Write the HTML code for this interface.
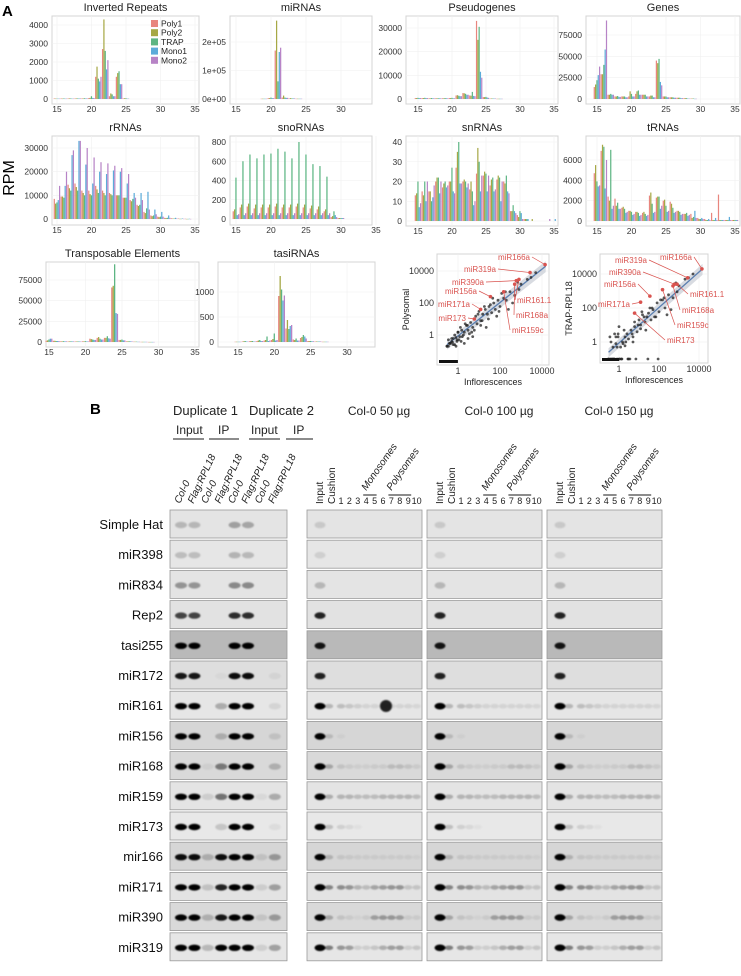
<!DOCTYPE html>
<html><head><meta charset="utf-8">
<style>
html,body{margin:0;padding:0;background:#fff;}
svg{display:block;font-family:"Liberation Sans",Arial,sans-serif;}
</style></head>
<body>
<svg id="fig" width="741" height="976" viewBox="0 0 741 976" xmlns="http://www.w3.org/2000/svg">
<defs><filter id="blur" x="-50%" y="-80%" width="200%" height="260%"><feGaussianBlur stdDeviation="0.9"/></filter></defs>
<text x="2" y="16" font-size="15" font-weight="bold">A</text>
<text x="90" y="414" font-size="15" font-weight="bold">B</text>
<text x="14" y="178" font-size="16" text-anchor="middle" transform="rotate(-90 14 178)">RPM</text>
<g id="hist"></g><g id="scat"></g><g id="blots"></g>
</svg>
<script>
// ===== Histogram data (lengths 15..35), series: Poly1, Poly2, TRAP, Mono1, Mono2 =====
const lengths = [15,16,17,18,19,20,21,22,23,24,25,26,27,28,29,30,31,32,33,34,35];
const seriesNames = ["Poly1","Poly2","TRAP","Mono1","Mono2"];
const seriesColors = ["#e8867e","#a6a845","#5db583","#5cabd9","#b783c6"];
const invertedRepeats = [
 [30,30,30,30,30,50,1200,2700,150,1200,30],
 [20,20,30,30,30,60,1750,4300,300,1400,40],
 [20,30,30,30,40,150,1100,2600,250,1500,40],
 [20,20,20,30,30,60,950,1600,150,800,20],
 [20,20,20,30,30,50,1200,2100,150,800,20]];
const miRNAs = [
 [0,0,0,0,1000,3000,170000,5000,2000,1000],
 [0,0,0,0,1000,3000,275000,12000,3000,1000],
 [0,0,0,0,1000,5000,62000,5000,2000,1000],
 [0,0,0,0,1000,3000,165000,4000,2000,1000],
 [0,0,0,0,1000,3000,180000,4000,2000,1000]];
const pseudogenes = [
 [400,400,300,300,300,400,1500,2500,1500,33000,800,200,100],
 [400,400,300,300,300,400,1600,2400,1400,25000,800,200,100],
 [500,500,400,300,400,500,1400,2200,3000,30500,900,200,100],
 [400,400,300,300,300,300,1200,1800,1300,11500,600,200,100],
 [400,400,300,300,300,300,1200,1800,1200,9000,500,200,100]];
const genes = [
 [14000,29000,5000,3000,3000,3000,6000,5000,3000,45000,3000,2000,1500,1000,500],
 [17000,29000,5000,3000,3000,9000,9000,5000,4000,42000,3000,2000,1500,1000,500],
 [22000,40000,6000,3500,3000,6000,10000,5000,4000,47000,3000,2000,1500,1000,500],
 [28000,58000,5000,2500,2000,3000,5000,3000,2000,20000,2000,1500,1000,500,300],
 [38000,92000,5000,2500,2000,3000,5000,3000,2000,16000,2000,1500,1000,500,300]];
const rRNAs = [
 [8500,9500,14500,15000,12000,12000,14000,12000,11000,10000,9000,8000,6000,3000,1500,1000,500,300,200,100],
 [6500,9500,13000,13500,11000,10500,12500,11000,10500,10000,9000,7500,5500,2500,1200,800,400,200,100,50],
 [7000,9000,12000,12000,10000,10000,11000,10000,10000,10000,9000,8500,6000,4500,1500,1000,500,200,100,50],
 [8000,14000,27000,33000,23000,15000,20000,19000,20500,20000,15000,11000,11000,11500,4000,3000,1500,500,200,100],
 [14000,20000,29000,33000,30000,26000,24000,23500,22500,21500,19000,9000,8000,4000,2000,1000,500,200,100,50]];
const snoRNAs = [
 [80,120,130,110,120,120,130,120,120,130,120,110,100,80,20,10],
 [100,150,160,150,150,150,160,150,150,160,150,140,130,100,30,10],
 [430,600,670,630,670,680,730,700,630,800,670,570,550,440,80,10],
 [40,40,40,40,40,40,40,40,40,40,40,40,40,40,40,10],
 [50,60,60,60,60,60,60,60,60,60,60,60,60,60,20,10]];
const snRNAs = [
 [13,15,15,20,17,20,27,20,16,24,23,18,21,20,5,3,1,0,0,0,0],
 [14,13,15,22,19,20,35,21,20,37,25,21,23,19,5,2,1,1,0,0,0],
 [20,20,10,22,20,27,40,20,15,30,24,22,22,23,8,5,1,0,0,0,0],
 [7,10,12,14,17,15,19,17,8,15,15,15,10,15,5,4,1,0,0,0,1],
 [9,20,18,20,18,14,19,19,10,23,23,16,20,14,4,1,0,0,0,1,0]];
const tRNAs = [
 [4700,6900,2400,2200,1300,1000,900,800,2500,2300,2000,1900,1000,700,700,300,200,800,2600,100,100],
 [5500,7500,2000,1500,1400,1000,900,900,2800,2400,2100,1700,1000,700,300,200,100,100,100,100,100],
 [3900,7300,7000,1800,1200,900,800,700,1700,2400,1500,1300,900,800,400,200,100,100,100,100,100],
 [3400,3200,1200,1200,800,600,500,500,800,1200,900,800,600,500,1000,300,200,300,100,400,100],
 [3500,6000,1500,1200,900,700,600,600,900,1500,1000,900,700,600,300,200,100,100,100,100,100]];
const transposons = [
 [1500,1500,800,700,600,800,4000,5000,5000,66000,2500,800,400,200,100],
 [2000,1500,800,700,600,800,3500,6000,5000,68000,2500,800,400,200,100],
 [3000,1200,1000,800,700,1000,3000,4000,7000,94000,3000,900,400,200,100],
 [4000,1200,800,700,600,700,2500,3000,4500,35000,2000,700,300,200,100],
 [4000,1200,800,700,600,700,2500,3000,4000,34000,2000,700,300,200,100]];
const tasiRNAs = [
 [5,10,15,20,30,40,920,270,50,80,20,10,5],
 [5,15,20,30,40,60,1320,440,40,100,20,10,5],
 [5,20,20,40,110,170,1050,260,70,140,20,10,5],
 [5,10,10,20,20,30,830,320,30,110,15,10,5],
 [5,10,10,20,30,40,930,340,30,70,15,10,5]];

const panels = [
 {name:"Inverted Repeats",data:invertedRepeats,box:[52,16,199,104],x15:57,ppu:6.9,zero:99,ref:4000,refPx:25,yt:[0,1000,2000,3000,4000],yl:["0","1000","2000","3000","4000"],xt:[15,20,25,30,35],legend:true},
 {name:"miRNAs",data:miRNAs,box:[230,16,372,104],x15:236,ppu:7.0,zero:99,ref:200000,refPx:42,yt:[0,100000,200000],yl:["0e+00","1e+05","2e+05"],xt:[15,20,25,30]},
 {name:"Pseudogenes",data:pseudogenes,box:[406,16,558,104],x15:418,ppu:6.8,zero:99,ref:30000,refPx:28,yt:[0,10000,20000,30000],yl:["0","10000","20000","30000"],xt:[15,20,25,30,35]},
 {name:"Genes",data:genes,box:[586,16,740,104],x15:597,ppu:6.9,zero:99,ref:75000,refPx:35,yt:[0,25000,50000,75000],yl:["0","25000","50000","75000"],xt:[15,20,25,30,35]},
 {name:"rRNAs",data:rRNAs,box:[52,136,199,225],x15:57,ppu:6.9,zero:219,ref:30000,refPx:148,yt:[0,10000,20000,30000],yl:["0","10000","20000","30000"],xt:[15,20,25,30,35]},
 {name:"snoRNAs",data:snoRNAs,box:[230,136,372,225],x15:236,ppu:7.0,zero:219,ref:800,refPx:142,yt:[0,200,400,600,800],yl:["0","200","400","600","800"],xt:[15,20,25,30,35]},
 {name:"snRNAs",data:snRNAs,box:[406,136,558,226],x15:418,ppu:6.8,zero:221,ref:40,refPx:142,yt:[0,10,20,30,40],yl:["0","10","20","30","40"],xt:[15,20,25,30,35]},
 {name:"tRNAs",data:tRNAs,box:[586,136,740,226],x15:597,ppu:6.9,zero:221,ref:6000,refPx:160,yt:[0,2000,4000,6000],yl:["0","2000","4000","6000"],xt:[15,20,25,30,35]},
 {name:"Transposable Elements",data:transposons,box:[46,262,199,347],x15:49,ppu:7.3,zero:342,ref:75000,refPx:280,yt:[0,25000,50000,75000],yl:["0","25000","50000","75000"],xt:[15,20,25,30,35]},
 {name:"tasiRNAs",data:tasiRNAs,box:[218,262,375,347],x15:238,ppu:7.27,zero:342,ref:1000,refPx:292,yt:[0,500,1000],yl:["0","500","1000"],xt:[15,20,25,30]}
];

// ===== Scatter data =====
const scatterBgX = [0.3,0.4,0.5,0.6,0.8,1,1.2,1.5,2,2.5,3,4,5,6,8,10,12,15,20,25,30,40,50,60,80,100,150,200,300,500,800,1000,2000,3000,5000,0.35,0.45,0.7,0.9,1.3,1.8,2.2,3.5,6,9,14,22,35,70,120,250,400,700,0.3,0.5,0.7,1.1,1.6,2.8,4.5,7,12,18,28,45,90,180,0.4,0.6,0.8,1,1.4,2,3,5,0.35,0.55,0.9];
const scatterLeftY = [0.2,0.3,0.4,0.6,0.7,1.5,0.8,2,1.5,4,2,6,3,10,5,30,8,20,40,20,60,25,100,40,150,60,200,150,500,300,700,1500,3000,4000,8000,0.5,0.3,1,0.4,3,1,5,1.2,2,20,8,3,80,15,400,40,100,2000,0.2,0.6,0.25,0.5,0.8,4,1.5,15,4,60,10,200,30,500,0.3,0.25,0.2,1.5,0.4,0.3,0.6,0.8,0.2,0.35,0.5];
const scatterRightY = [0.1,0.1,0.1,0.1,0.1,0.1,0.5,1,0.6,3,1.5,5,2,8,4,20,10,40,15,30,50,20,80,30,200,60,300,100,600,400,900,2000,5000,6000,10000,2,0.1,0.8,3,0.1,5,1,0.1,15,10,60,5,100,30,300,40,80,3000,0.1,0.5,2,0.1,0.8,0.1,3,0.1,6,30,0.1,100,0.1,400,1,3,0.5,8,0.1,2,0.1,1,0.1,0.1,2];
const labelNames = ["miR166a","miR319a","miR390a","miR156a","miR171a","miR173","miR161.1","miR168a","miR159c"];
const labelX = [14000,2700,600,35,12,6,800,500,150];
const labelLeftY = [25000,8000,2500,250,40,10,3000,1500,500];
const labelRightY = [20000,6000,2500,500,220,50,2500,2000,1200];

// ===== Blot data =====
const blotRows = ["Simple Hat","miR398","miR834","Rep2","tasi255","miR172","miR161","miR156","miR168","miR159","miR173","mir166","miR171","miR390","miR319"];
const blotBg = ["#e4e4e4","#e6e6e6","#e4e4e4","#e2e2e2","#b9b9b9","#dedede","#e6e6e6","#d6d6d6","#d9d9d9","#e4e4e4","#e8e8e8","#d6d6d6","#e3e3e3","#d9d9d9","#e6e6e6"];
const gel1Bands = [
 [.2,.2,0,0,.3,.28,0,0],[.18,.18,0,0,.22,.2,0,0],[.35,.35,0,0,.4,.4,0,0],[.7,.7,0,0,.8,.8,0,0],
 [1,1,0,0,1,1,0,0],[.9,.9,0,.03,.95,.95,0,.05],[1,1,0,.25,1,1,0,.08],[1,1,0,.2,1,1,0,.1],
 [1,1,.05,.45,1,1,0,.2],[1,1,.1,.5,1,1,.05,.25],[1,1,0,.15,1,1,0,.05],[.95,.95,.2,.95,1,1,.1,.3],
 [1,1,.15,.85,1,1,.1,.3],[1,1,.2,.9,1,1,.1,.3],[1,1,.2,1,1,1,.1,.3]];
const fracBands = [
 [.12,0,0,0,0,0,0,0,0,0,0,0],[.1,0,0,0,0,0,0,0,0,0,0,0],[.2,0,0,0,0,0,0,0,0,0,0,0],
 [.85,0,0,0,0,0,0,0,0,0,0,0],[.9,0,0,0,0,0,0,0,0,0,0,0],[.85,0,0,0,0,0,0,0,0,0,0,0],
 [1,.3,.25,.2,.15,.12,.12,.12,.12,.12,.12,.1],[1,.2,.05,0,0,0,0,0,0,0,0,0],
 [1,.35,.15,.1,.08,.08,.1,.1,.2,.2,.15,.1],[1,.35,.3,.3,.25,.25,.25,.3,.3,.3,.3,.25],
 [1,.25,.15,.1,.05,0,0,0,0,0,0,0],[1,.25,.12,.1,.08,.08,.08,.08,.08,.08,.08,.05],
 [1,.6,.55,.5,.3,.25,.4,.45,.5,.5,.2,.2],[1,.35,.15,.1,.05,.1,.4,.45,.45,.4,.1,.1],
 [1,.65,.5,.45,.15,.15,.2,.35,.45,.45,.15,.2]];
const fracLabels = ["1","2","3","4","5","6","7","8","9","10"];
const gelTitles = ["Col-0 50 µg","Col-0 100 µg","Col-0 150 µg"];
const gel1Lanes = ["Col-0","Flag:RPL18","Col-0","Flag:RPL18","Col-0","Flag:RPL18","Col-0","Flag:RPL18"];

const NS="http://www.w3.org/2000/svg";
function mk(parent,tag,attrs,txt){const e=document.createElementNS(NS,tag);for(const k in attrs)e.setAttribute(k,attrs[k]);if(txt!==undefined)e.textContent=txt;parent.appendChild(e);return e;}

// ===== Draw histograms =====
const H=document.getElementById('hist');
panels.forEach(p=>{
  const g=mk(H,'g',{});
  
  
  const [x0,y0,x1,y1]=p.box;
  const xs=v=>p.x15+(v-15)*p.ppu;
  const ys=v=>p.zero-(v/p.ref)*(p.zero-p.refPx);
  const bg=mk(g,'rect',{x:x0,y:y0,width:x1-x0,height:y1-y0,fill:'#fff',stroke:'#d4d4d4','stroke-width':1});
  
  
  p.yt.forEach(t=>mk(g,'line',{x1:x0,x2:x1,y1:ys(t),y2:ys(t),stroke:'#f0f0f0','stroke-width':0.6}));
  p.xt.forEach(t=>mk(g,'line',{x1:xs(t),x2:xs(t),y1:y0,y2:y1,stroke:'#f0f0f0','stroke-width':0.6}));
  const tt=mk(g,'text',{x:(x0+x1)/2,y:y0-5,'font-size':11,'text-anchor':'middle',fill:'#222'},p.name);
  
  
  p.yt.forEach((t,i)=>{
    const l=mk(g,'text',{x:x0-4,y:ys(t)+3,'font-size':8.5,'text-anchor':'end',fill:'#333'},p.yl[i]);
    
    
  });
  p.xt.forEach(t=>{
    const l=mk(g,'text',{x:xs(t),y:y1+8,'font-size':8.5,'text-anchor':'middle',fill:'#333'},String(t));
    
    
  });
  const bw=p.ppu/5.2;
  p.data.forEach((ser,si)=>{
    ser.forEach((v,i)=>{
      if(!v)return;
      const L=lengths[i];
      const x=xs(L)-2.5*bw+si*bw;
      const r=mk(g,'rect',{x:x.toFixed(2),y:ys(v).toFixed(2),width:(bw*0.92).toFixed(2),height:Math.max(0.4,p.zero-ys(v)).toFixed(2),fill:seriesColors[si]});
      
      
    });
  });
  if(p.legend){
    seriesNames.forEach((n,i)=>{
      const lg=mk(g,'g',{});
      
      
      mk(lg,'rect',{x:151,y:20+i*9.2,width:7,height:7,fill:seriesColors[i]});
      mk(lg,'text',{x:161,y:26.5+i*9.2,'font-size':8.5,fill:'#222'},n);
    });
  }
});

// ===== Scatter plots =====
const S=document.getElementById('scat');
function scatter(name,box,xOne,xDec,yOne,yDec,ys,labY,ytitle,labPos){
  const g=mk(S,'g',{});
  
  
  const [x0,y0,x1,y1]=box;
  const sx=v=>xOne+xDec*Math.log10(v);
  const sy=v=>yOne-yDec*Math.log10(v);
  mk(g,'rect',{x:x0,y:y0,width:x1-x0,height:y1-y0,fill:'#fff',stroke:'#d4d4d4'});
  [0,2,4].forEach(d=>{mk(g,'line',{x1:sx(Math.pow(10,d)),x2:sx(Math.pow(10,d)),y1:y0,y2:y1,stroke:'#eee','stroke-width':0.6});mk(g,'line',{x1:x0,x2:x1,y1:sy(Math.pow(10,d)),y2:sy(Math.pow(10,d)),stroke:'#eee','stroke-width':0.6});});
  const pA=[sx(0.3),sy(0.25)],pB=[sx(15000),sy(20000)];
  mk(g,'polygon',{points:`${pA[0]},${pA[1]-4} ${pB[0]},${pB[1]-5} ${pB[0]},${pB[1]+6} ${pA[0]},${pA[1]+5}`,fill:'#c8ccd4',opacity:0.7});
  const fit=mk(g,'line',{x1:pA[0],y1:pA[1],x2:pB[0],y2:pB[1],stroke:'#5b7fb0','stroke-width':1.3});
  
  
  scatterBgX.forEach((v,i)=>{
    const c=mk(g,'circle',{cx:sx(v).toFixed(1),cy:Math.min(y1-3,sy(ys[i])).toFixed(1),r:1.4,fill:'#222',opacity:0.75});
    
    
  });
  mk(g,'rect',{x:x0+2,y:y1-5,width:(sx(1)-x0)*0.9,height:3,fill:'#111'});
  labelNames.forEach((n,i)=>{
    const px=sx(labelX[i]),py=sy(labY[i]);
    const [lx,ly,anc]=labPos[i];
    mk(g,'line',{x1:lx+(anc==='end'?2:-2),y1:ly-3,x2:px,y2:py,stroke:'#d9534f','stroke-width':0.7});
    const c=mk(g,'circle',{cx:px,cy:py,r:1.8,fill:'#d9534f'});
    
    
    const t=mk(g,'text',{x:lx,y:ly,'font-size':8,fill:'#d9534f','text-anchor':anc},n);
    
    
  });
  [1,100,10000].forEach(v=>{
    mk(g,'text',{x:sx(v),y:y1+9,'font-size':9,'text-anchor':'middle',fill:'#333'},String(v));
    mk(g,'text',{x:x0-3,y:sy(v)+3,'font-size':9,'text-anchor':'end',fill:'#333'},String(v));
  });
  const xt2=mk(g,'text',{x:(x0+x1)/2,y:y1+20,'font-size':9,'text-anchor':'middle',fill:'#222'},'Inflorescences');
  
  
  const tx=x0-28,ty=(y0+y1)/2;
  const yt2=mk(g,'text',{x:tx,y:ty,'font-size':9,'text-anchor':'middle',fill:'#222',transform:`rotate(-90 ${tx} ${ty})`},ytitle);
  
  
}
scatter('scatter-polysomal',[437,254,549,365],458,21,335,16,scatterLeftY,labelLeftY,'Polysomal',
 [[530,260,'end'],[496,272,'end'],[484,285,'end'],[477,294,'end'],[470,307,'end'],[466,321,'end'],[517,303,'start'],[516,318,'start'],[512,333,'start']]);
scatter('scatter-trap',[600,254,708,363],619,20,342,17,scatterRightY,labelRightY,'TRAP-RPL18',
 [[692,260,'end'],[647,263,'end'],[641,275,'end'],[636,287,'end'],[630,307,'end'],[667,343,'start'],[690,297,'start'],[682,313,'start'],[677,328,'start']]);

// ===== Blots =====
const B=document.getElementById('blots');
const hdr=[["Duplicate 1",173,415,13],["Duplicate 2",249,415,13],["Input",176,434,12],["IP",218,434,12],["Input",251,434,12],["IP",293,434,12]];
hdr.forEach(h=>{const t=mk(B,'text',{x:h[1],y:h[2],'font-size':h[3],fill:'#222'},h[0]);});
[[173,204],[209,239],[249,280],[286,313]].forEach(s=>mk(B,'line',{x1:s[0],x2:s[1],y1:439,y2:439,stroke:'#666','stroke-width':1.5}));
const g1x=i=>181+i*13.4;
gel1Lanes.forEach((n,i)=>{
  const x=g1x(i)-1,y=504;
  const t=mk(B,'text',{x:x,y:y,'font-size':10,'font-style':'italic',fill:'#222',transform:`rotate(-65 ${x} ${y})`},n);
  
  
});
const gelX=[307,427,547];
const gelW=115;
const lx=(i)=> i===0?13:(i===1?22:34+(i-2)*8.4);
gelX.forEach((gx,gi)=>{
  const t=mk(B,'text',{x:gx+72,y:415,'font-size':12,'text-anchor':'middle',fill:'#222'},gelTitles[gi]);
  
  
  [["Input",gx+13],["Cushion",gx+25]].forEach(a=>{mk(B,'text',{x:a[1]+3,y:504,'font-size':10,fill:'#222',transform:`rotate(-90 ${a[1]+3} 504)`},a[0]);});
  fracLabels.forEach((f,i)=>mk(B,'text',{x:gx+lx(i+2),y:504,'font-size':9,'text-anchor':'middle',fill:'#222'},f));
  mk(B,'line',{x1:gx+lx(5)-3,x2:gx+lx(6)+2,y1:495,y2:495,stroke:'#666','stroke-width':1.5});
  mk(B,'line',{x1:gx+lx(8)-3,x2:gx+lx(10)+3,y1:495,y2:495,stroke:'#666','stroke-width':1.5});
  [["Monosomes",gx+lx(5)],["Polysomes",gx+lx(8)]].forEach(a=>mk(B,'text',{x:a[1],y:491,'font-size':10,'font-style':'italic',fill:'#222',transform:`rotate(-55 ${a[1]} 491)`},a[0]));
});
blotRows.forEach((r,ri)=>{
  const top=510+ri*30.2;
  const row=mk(B,'g',{});
  
  
  mk(row,'text',{x:163,y:top+19,'font-size':13,'text-anchor':'end',fill:'#111'},r);
  const by=top+15;
  mk(row,'rect',{x:170,y:top,width:117,height:28,fill:blotBg[ri],stroke:'#999','stroke-width':0.8});
  const bands1=mk(row,'g',{filter:'url(#blur)'});
  gel1Bands[ri].forEach((v,i)=>{if(v>0)mk(bands1,'ellipse',{cx:g1x(i),cy:by,rx:6,ry:3.2,fill:'#000',opacity:v});});
  gelX.forEach(gx=>{
    mk(row,'rect',{x:gx,y:top,width:gelW,height:28,fill:blotBg[ri],stroke:'#999','stroke-width':0.8});
    const bg2=mk(row,'g',{filter:'url(#blur)'});
    fracBands[ri].forEach((v,i)=>{if(v>0)mk(bg2,'ellipse',{cx:gx+lx(i),cy:by,rx:i===0?5.5:4.2,ry:i===0?3.3:2.3,fill:'#000',opacity:v*(i===0?1:0.7)});});
  });
});
mk(B,'circle',{cx:386,cy:706,r:6,fill:'#111',opacity:0.9,filter:'url(#blur)'});
</script>
</body></html>
